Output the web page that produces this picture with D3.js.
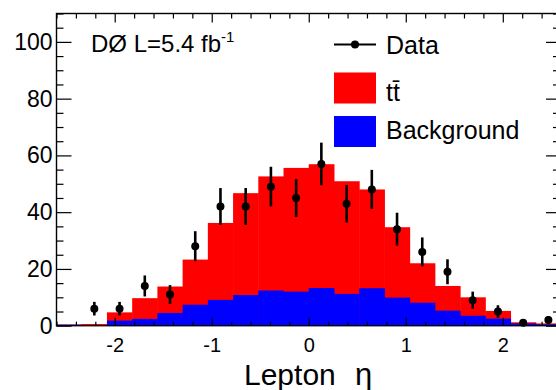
<!DOCTYPE html>
<html>
<head>
<meta charset="utf-8">
<script src="https://cdn.jsdelivr.net/npm/d3@7"></script>
<style>
  html, body { margin: 0; padding: 0; background: #fff; }
  svg { display: block; font-family: "Liberation Sans", Arial, Helvetica, sans-serif; }
</style>
</head>
<body>
<svg id="chart" width="556" height="390"></svg>
<script>
// ---- data ----
const binEdges = [-2.6, -2.34, -2.08, -1.82, -1.56, -1.3, -1.04, -0.78, -0.52, -0.26, 0,
                  0.26, 0.52, 0.78, 1.04, 1.3, 1.56, 1.82, 2.08, 2.34, 2.6];
const background = [0.4, 0.2, 1.8, 2.4, 4.5, 7.4, 9.1, 10.8, 12.4, 12.0, 13.3, 11.2, 13.2, 9.9, 8.1, 5.3, 3.5, 2.5, 0.8, 0.5];
const ttbar      = [0.0, 0.4, 2.9, 7.3, 9.3, 15.9, 27.1, 35.9, 40.2, 43.6, 43.6, 39.7, 34.8, 24.8, 13.9, 8.7, 6.5, 2.7, 0.4, 0.3];
const dataCounts = [null, 6, 6, 14, 11, 28, 42, 42, 49, 45, 57, 43, 48, 34, 26, 19, 9, 5, 1, 2];
const dataErrors = [null, 2.4, 2.4, 3.7, 3.3, 5.3, 6.5, 6.5, 7.0, 6.7, 7.5, 6.6, 6.9, 5.8, 5.1, 4.4, 3.0, 2.2, 1.0, 1.4];
const xMajorTicks = [-2, -1, 0, 1, 2];
const yMajorTicks = [0, 20, 40, 60, 80, 100];
const legendLabels = ["Data", "tt\u0304", "Background"];
const xTitleMain = "Lepton";
const xTitleSym = "\u03b7";
const lumiText = "D\u00d8 L=5.4 fb";
const lumiSup = "-1";

// ---- layout ----
const svg = d3.select("#chart");
const pL = 56.5, pR = 561, pT = 13.5, pB = 325.7;

const x = d3.scaleLinear().domain([-2.6, 2.6]).range([pL, pR]);
const y = d3.scaleLinear().domain([0, 110]).range([pB, pT]);

const bins = background.map((b, i) => ({
  x0: binEdges[i], x1: binEdges[i + 1],
  bg: b, tt: ttbar[i], data: dataCounts[i], err: dataErrors[i]
}));

// stacked histogram: red (ttbar on top of background), then blue background
const g = svg.append("g");
g.selectAll("rect.tt").data(bins).join("rect")
  .attr("class", "tt")
  .attr("x", d => x(d.x0))
  .attr("width", d => x(d.x1) - x(d.x0) + 0.5)
  .attr("y", d => y(d.bg + d.tt))
  .attr("height", d => y(0) - y(d.bg + d.tt))
  .attr("fill", "#ff0000");
g.selectAll("rect.bg").data(bins).join("rect")
  .attr("class", "bg")
  .attr("x", d => x(d.x0))
  .attr("width", d => x(d.x1) - x(d.x0) + 0.5)
  .attr("y", d => y(d.bg))
  .attr("height", d => y(0) - y(d.bg))
  .attr("fill", "#0000ff");

// data points with error bars
const pts = bins.filter(d => d.data !== null);
const cx = d => x((d.x0 + d.x1) / 2);
g.selectAll("line.err").data(pts).join("line")
  .attr("x1", cx).attr("x2", cx)
  .attr("y1", d => y(d.data - d.err)).attr("y2", d => y(d.data + d.err))
  .attr("stroke", "#000").attr("stroke-width", 2.6);
g.selectAll("circle.pt").data(pts).join("circle")
  .attr("cx", cx).attr("cy", d => y(d.data)).attr("r", 4)
  .attr("fill", "#000");

// ---- axes (ROOT style, ticks pointing inward) ----
const xMinor = d3.range(-26, 27, 2).map(v => v / 10).filter(v => xMajorTicks.indexOf(v) < 0);
const yMinor = d3.range(0, 111, 5).filter(v => yMajorTicks.indexOf(v) < 0);
const plainFmt = d => String(d);

function styleAxis(sel) {
  sel.select(".domain").remove();
  sel.selectAll("line").attr("stroke", "#000").attr("stroke-width", 1.2);
}

// bottom
svg.append("g").attr("transform", `translate(0,${pB})`)
  .call(d3.axisBottom(x).tickValues(xMajorTicks).tickSize(-8).tickPadding(12)
        .tickFormat(plainFmt))
  .call(styleAxis)
  .call(s => s.selectAll("text").attr("fill", "#000").attr("font-size", 20)
        .attr("font-family", "Liberation Sans, Arial, sans-serif"));
svg.append("g").attr("transform", `translate(0,${pB})`)
  .call(d3.axisBottom(x).tickValues(xMinor).tickSize(-4).tickFormat(""))
  .call(styleAxis);
// top
svg.append("g").attr("transform", `translate(0,${pT})`)
  .call(d3.axisTop(x).tickValues(xMajorTicks).tickSize(-9).tickFormat(""))
  .call(styleAxis);
svg.append("g").attr("transform", `translate(0,${pT})`)
  .call(d3.axisTop(x).tickValues(xMinor).tickSize(-5).tickFormat(""))
  .call(styleAxis);
// left
svg.append("g").attr("transform", `translate(${pL},0)`)
  .call(d3.axisLeft(y).tickValues(yMajorTicks).tickSize(-15).tickPadding(4)
        .tickFormat(plainFmt))
  .call(styleAxis)
  .call(s => s.selectAll("text").attr("fill", "#000").attr("font-size", 23)
        .attr("font-family", "Liberation Sans, Arial, sans-serif"));
svg.append("g").attr("transform", `translate(${pL},0)`)
  .call(d3.axisLeft(y).tickValues(yMinor).tickSize(-7).tickFormat(""))
  .call(styleAxis);
// right
svg.append("g").attr("transform", `translate(${pR},0)`)
  .call(d3.axisRight(y).tickValues(yMajorTicks).tickSize(-15).tickFormat(""))
  .call(styleAxis);
svg.append("g").attr("transform", `translate(${pR},0)`)
  .call(d3.axisRight(y).tickValues(yMinor).tickSize(-8).tickFormat(""))
  .call(styleAxis);

// frame
svg.append("rect").attr("x", pL).attr("y", pT)
  .attr("width", pR - pL).attr("height", pB - pT)
  .attr("fill", "none").attr("stroke", "#000").attr("stroke-width", 1.4);

// ---- texts ----
const lumi = svg.append("text").attr("x", 91).attr("y", 52)
  .attr("font-size", 24).attr("fill", "#000").text(lumiText);
lumi.append("tspan").attr("dy", -10).attr("font-size", 15).text(lumiSup);

const xt = svg.append("text").attr("x", 244).attr("y", 385)
  .attr("font-size", 30).attr("fill", "#000");
xt.append("tspan").text(xTitleMain);
xt.append("tspan").attr("x", 355).attr("font-size", 31).text(xTitleSym);

// legend
const lg = svg.append("g");
lg.append("line").attr("x1", 334).attr("x2", 376).attr("y1", 44.5).attr("y2", 44.5)
  .attr("stroke", "#000").attr("stroke-width", 2);
lg.append("circle").attr("cx", 355).attr("cy", 44.5).attr("r", 4).attr("fill", "#000");
lg.append("rect").attr("x", 334).attr("y", 72.5).attr("width", 42).attr("height", 31)
  .attr("fill", "#ff0000");
lg.append("rect").attr("x", 334).attr("y", 116).attr("width", 42).attr("height", 31)
  .attr("fill", "#0000ff");
const legY = [54, 101, 139];
legendLabels.forEach((t, i) => {
  lg.append("text").attr("x", 386).attr("y", legY[i]).attr("font-size", 25)
    .attr("fill", "#000").text(t);
});
</script>
</body>
</html>
